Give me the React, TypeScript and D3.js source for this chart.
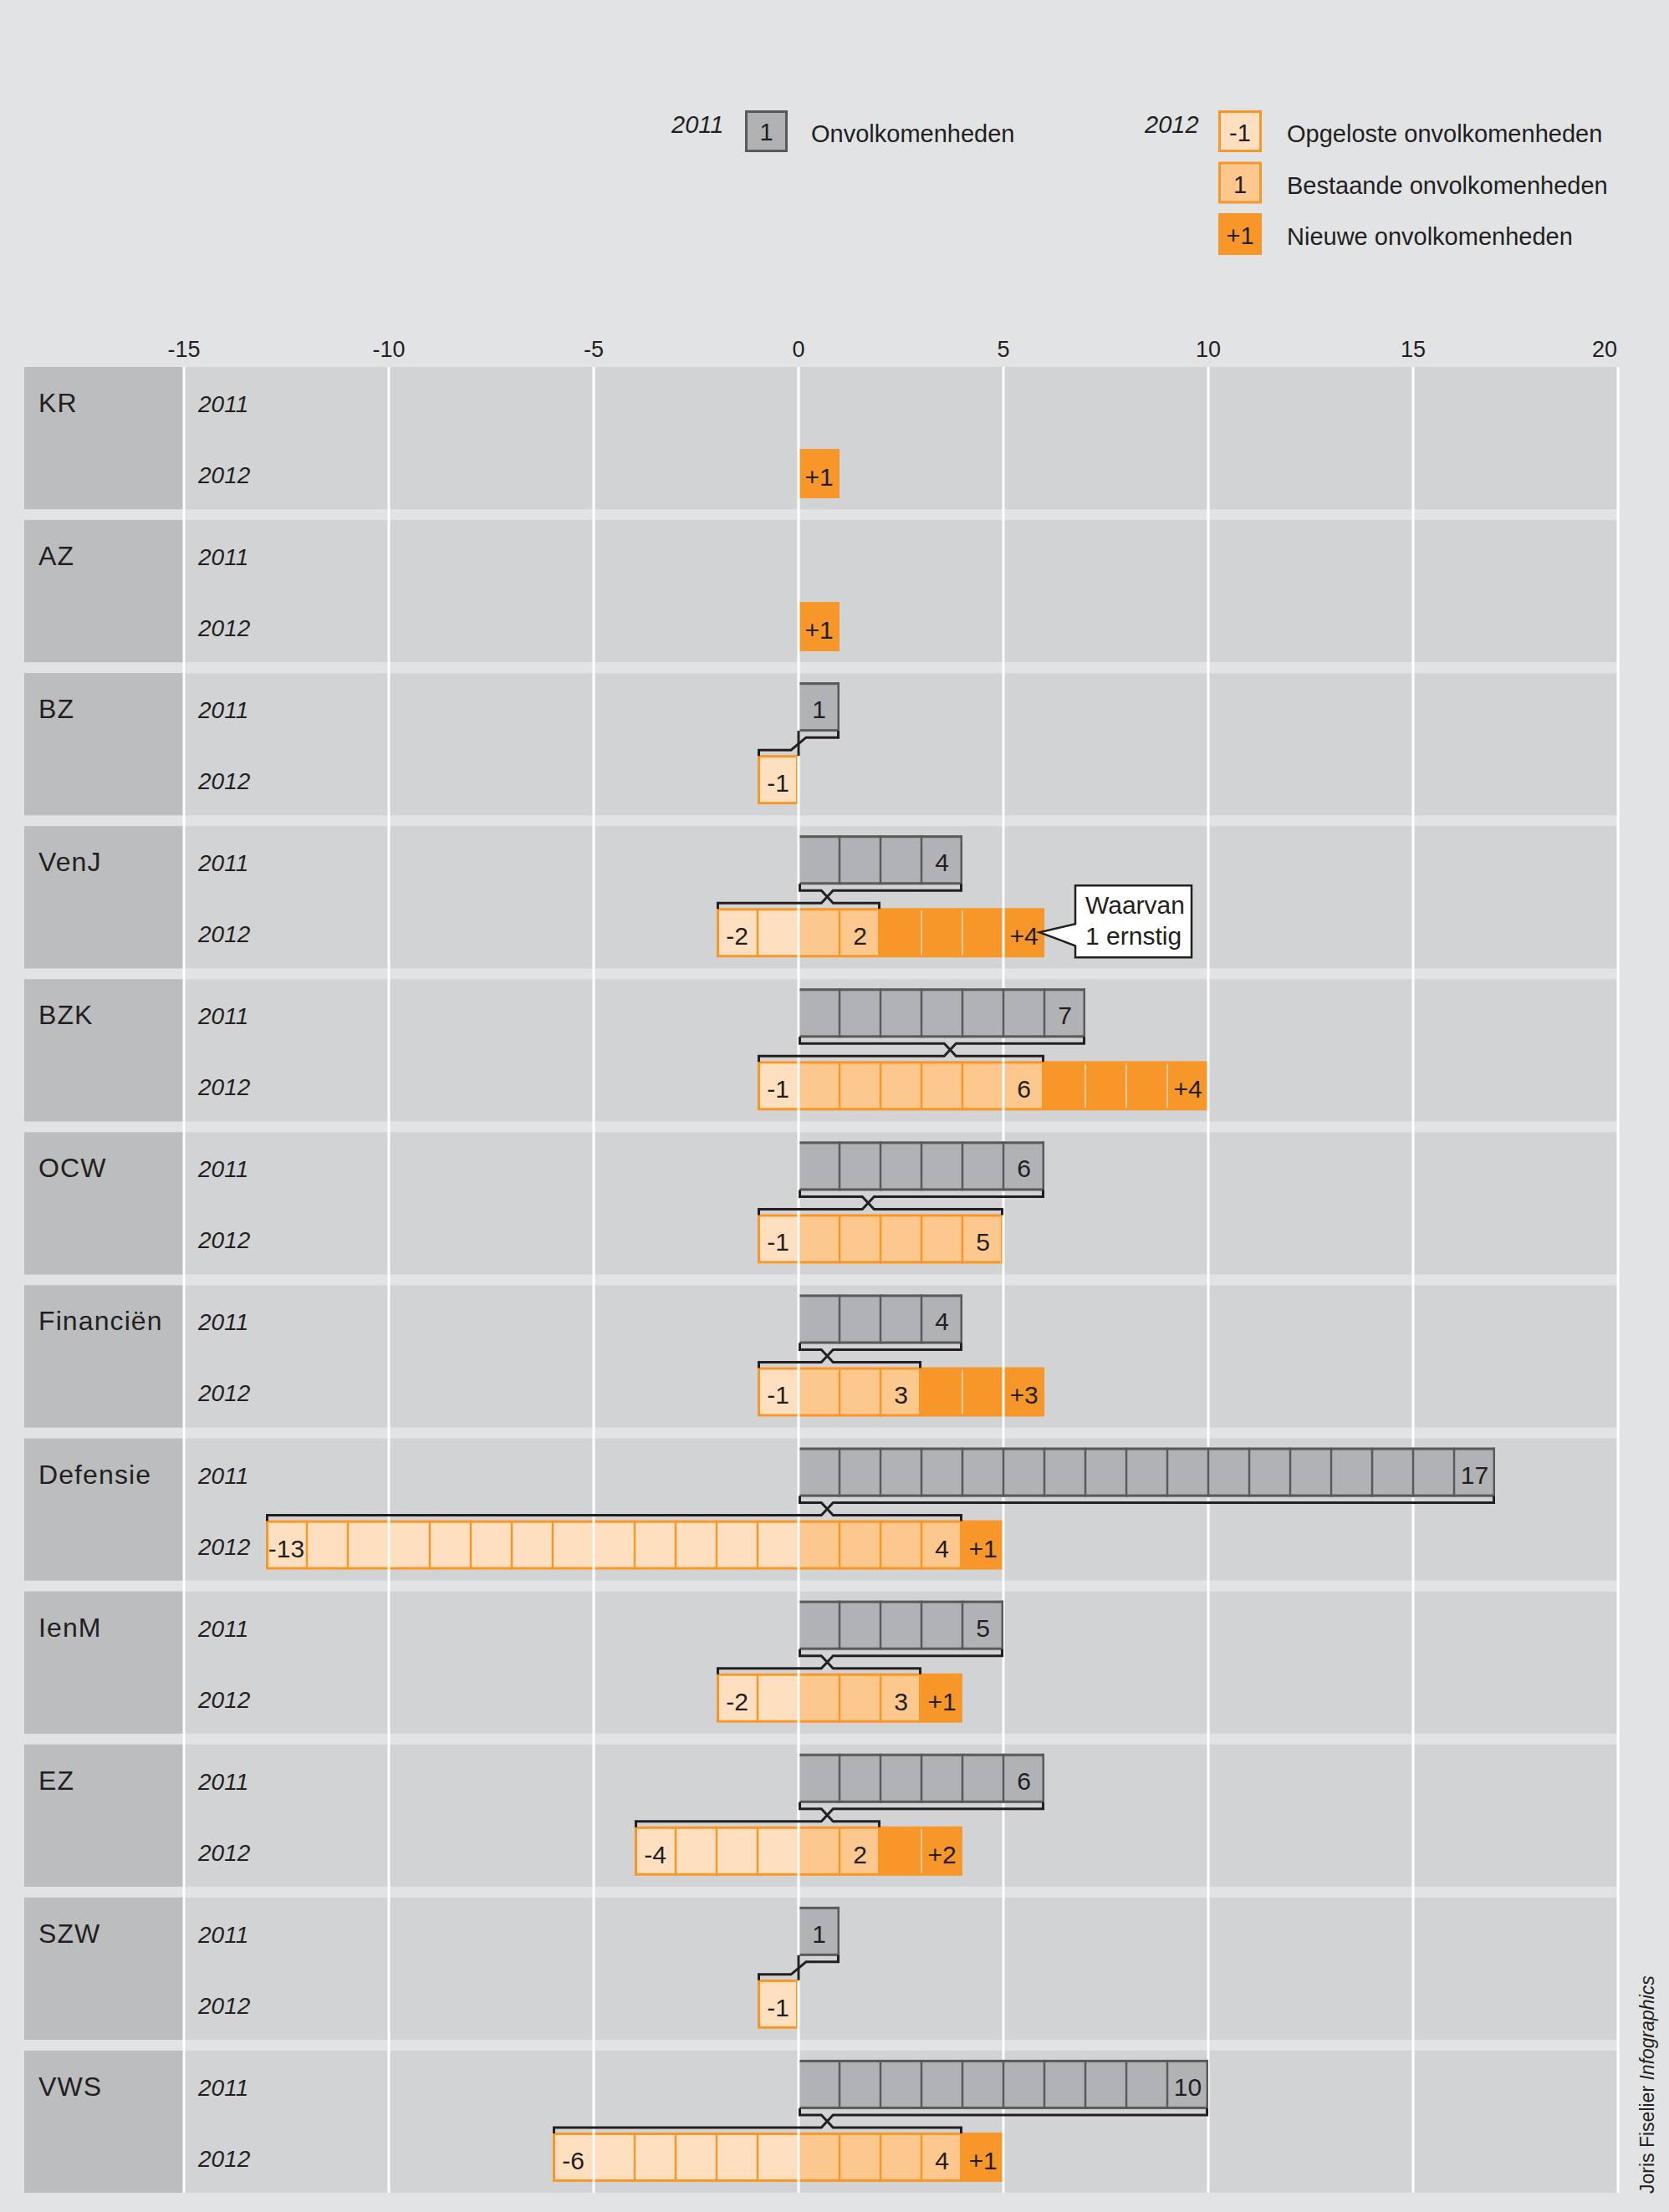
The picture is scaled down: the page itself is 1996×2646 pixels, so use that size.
import React from "react";
import * as d3 from "d3";

// ---------- DATA ----------
const departments = ["KR", "AZ", "BZ", "VenJ", "BZK", "OCW", "Financiën", "Defensie", "IenM", "EZ", "SZW", "VWS"];
const values2011 = [0, 0, 1, 4, 7, 6, 4, 17, 5, 6, 1, 10];
const resolved2012 = [0, 0, 1, 2, 1, 1, 1, 13, 2, 4, 1, 6];
const existing2012 = [0, 0, 0, 2, 6, 5, 3, 4, 3, 2, 0, 4];
const new2012 = [1, 1, 0, 4, 4, 0, 3, 1, 1, 2, 0, 1];
const connectorType = ["none", "none", "step", "cross", "cross", "cross", "cross", "cross", "cross", "cross", "step", "cross"];
const connectorAt = [0, 0, 0, 0.7, 3.7, 1.7, 0.7, 0.7, 0.7, 0.7, 0, 0.7];
const axisTicks = [-15, -10, -5, 0, 5, 10, 15, 20];
const yearLabels = ["2011", "2012"];
const calloutDept = "VenJ";
const calloutLines = ["Waarvan", "1 ernstig"];
const legend2011 = [{ box: "1", label: "Onvolkomenheden" }];
const legend2012 = [
  { box: "-1", label: "Opgeloste onvolkomenheden", kind: "pale" },
  { box: "1", label: "Bestaande onvolkomenheden", kind: "light" },
  { box: "+1", label: "Nieuwe onvolkomenheden", kind: "dark" },
];

// ---------- STYLE ----------
const W = 1996;
const H = 2646;
const C = {
  bg: "#e2e3e5",
  panel: "#d2d3d5",
  labelCol: "#bcbdbf",
  grayFill: "#b1b2b5",
  grayLine: "#5a5a5c",
  pale: "#fee0c0",
  light: "#fdc88e",
  dark: "#f7972a",
  text: "#231f20",
};
const FONT = "'Liberation Sans', Arial, Helvetica, sans-serif";

const x = d3.scaleLinear().domain([-15, 20]).range([220, 1935]);
const y = d3
  .scaleBand<string>()
  .domain(departments)
  .range([439, 2623])
  .paddingInner(0.071)
  .paddingOuter(0);

// relative offsets inside a panel
const G_TOP = 11;
const G_BOT = 70;
const O_TOP = 98;
const O_BOT = 157;
const BR_UP = 77;
const BR_LO = 92;

function Bar2011({ v, top }: { v: number; top: number }) {
  if (v <= 0) return null;
  const x0 = x(0) + 1.5;
  const x1 = x(v);
  const els: React.ReactNode[] = [];
  els.push(<rect key="f" x={x0} y={top + G_TOP} width={x1 - x0} height={G_BOT - G_TOP} fill={C.grayFill} />);
  els.push(<rect key="t" x={x0} y={top + G_TOP} width={x1 - x0} height={3} fill={C.grayLine} />);
  els.push(<rect key="b" x={x0} y={top + G_BOT - 3} width={x1 - x0} height={3} fill={C.grayLine} />);
  els.push(<rect key="r" x={x1 - 2.5} y={top + G_TOP} width={2.5} height={G_BOT - G_TOP} fill={C.grayLine} />);
  d3.range(1, v).forEach((i) => {
    els.push(<rect key={"d" + i} x={x(i) - 1.25} y={top + G_TOP} width={2.5} height={G_BOT - G_TOP} fill={C.grayLine} />);
  });
  els.push(
    <text key="l" x={(x(v - 1) + x(v)) / 2} y={top + 54} textAnchor="middle" fontSize={30} fill={C.text} fontFamily={FONT}>
      {v}
    </text>
  );
  return <g>{els}</g>;
}

function Bar2012Fills({ res, ex, nw, top }: { res: number; ex: number; nw: number; top: number }) {
  const yt = top + O_TOP;
  const h = O_BOT - O_TOP;
  const els: React.ReactNode[] = [];
  if (res > 0) els.push(<rect key="p" x={x(-res)} y={yt} width={x(0) - x(-res)} height={h} fill={C.pale} />);
  if (ex > 0) els.push(<rect key="li" x={x(0)} y={yt} width={x(ex) - x(0)} height={h} fill={C.light} />);
  if (nw > 0) els.push(<rect key="dk" x={x(ex)} y={yt} width={x(ex + nw) - x(ex)} height={h} fill={C.dark} />);
  if (res + ex > 0) {
    els.push(
      <rect key="o" x={x(-res) + 1.5} y={yt + 1.5} width={x(ex) - x(-res) - 3} height={h - 3} fill="none" stroke={C.dark} strokeWidth={3} />
    );
    d3.range(-res + 1, ex).forEach((i) => {
      els.push(<rect key={"od" + i} x={x(i) - 1.25} y={yt} width={2.5} height={h} fill={C.dark} />);
    });
  }
  d3.range(ex + 1, ex + nw).forEach((i) => {
    els.push(<rect key={"nd" + i} x={x(i) - 1} y={yt + 3} width={2} height={h - 6} fill="#fcc995" />);
  });
  return <g>{els}</g>;
}

function Bar2012Labels({ res, ex, nw, top }: { res: number; ex: number; nw: number; top: number }) {
  const by = top + 142;
  const els: React.ReactNode[] = [];
  const t = (k: string, v0: number, s: string) => (
    <text key={k} x={(x(v0) + x(v0 + 1)) / 2} y={by} textAnchor="middle" fontSize={30} fill={C.text} fontFamily={FONT}>
      {s}
    </text>
  );
  if (res > 0) els.push(t("r", -res, "-" + res));
  if (ex > 0) els.push(t("e", ex - 1, String(ex)));
  if (nw > 0) els.push(t("n", ex + nw - 1, "+" + nw));
  return <g>{els}</g>;
}

function Connector({ i, top }: { i: number; top: number }) {
  const type = connectorType[i];
  if (type === "none") return null;
  const v = values2011[i];
  const res = resolved2012[i];
  const ex = existing2012[i];
  const cx = x(connectorAt[i]);
  const yu = top + BR_UP;
  const yl = top + BR_LO;
  const gb = top + G_BOT - 1;
  const ot = top + O_TOP + 1;
  const st = { fill: "none", stroke: C.text, strokeWidth: 3, strokeLinejoin: "miter" as const };
  if (type === "step") {
    const d = 9;
    return (
      <g>
        <path d={`M${x(v) - 1.5},${gb} V${yu} H${cx + d} L${cx - d},${yl} H${x(-res) + 1.5} V${ot}`} {...st} />
        <path d={`M${x(0)},${gb} V${ot}`} {...st} />
      </g>
    );
  }
  const d = 7;
  return (
    <g>
      <path d={`M${x(0) + 1.5},${gb} V${yu} H${cx - d} L${cx + d},${yl} H${x(ex) - 1.5} V${ot}`} {...st} />
      <path d={`M${x(v) - 1.5},${gb} V${yu} H${cx + d} L${cx - d},${yl} H${x(-res) + 1.5} V${ot}`} {...st} />
    </g>
  );
}

function Callout({ top, endX }: { top: number; endX: number }) {
  const bl = endX + 37;
  const br = endX + 176;
  const bt = top + 71;
  const bb = top + 157;
  const tipX = endX - 6;
  const tipY = top + 127;
  const p = `M${bl},${bt} H${br} V${bb} H${bl} V${top + 143} L${tipX},${tipY} L${bl},${top + 117} Z`;
  return (
    <g>
      <path d={p} fill="#ffffff" stroke={C.text} strokeWidth={2.5} strokeLinejoin="miter" />
      {calloutLines.map((s, k) => (
        <text key={k} x={bl + 12} y={top + 105 + k * 37} fontSize={30} fill={C.text} fontFamily={FONT}>
          {s}
        </text>
      ))}
    </g>
  );
}

export default function App() {
  const bw = y.bandwidth();
  const firstTop = y(departments[0]) as number;
  const lastBottom = (y(departments[departments.length - 1]) as number) + bw;
  const lastTick = axisTicks[axisTicks.length - 1];

  return (
    <svg
      width={W}
      height={H}
      viewBox={`0 0 ${W} ${H}`}
      style={{ position: "absolute", left: 0, top: 0, display: "block" }}
      fontFamily={FONT}
    >
      <rect x={0} y={0} width={W} height={H} fill={C.bg} />

      {/* Legend */}
      <g>
        <text x={803} y={159} fontSize={29} fontStyle="italic" fill={C.text}>2011</text>
        {legend2011.map((l, k) => (
          <g key={k}>
            <rect x={892.5} y={133.5} width={48} height={47} fill={C.grayFill} stroke={C.grayLine} strokeWidth={3} />
            <text x={916.5} y={168} textAnchor="middle" fontSize={29} fill={C.text}>{l.box}</text>
            <text x={970} y={170} fontSize={29} fill={C.text}>{l.label}</text>
          </g>
        ))}
        <text x={1369} y={159} fontSize={29} fontStyle="italic" fill={C.text}>2012</text>
        {legend2012.map((l, k) => {
          const by = 132 + k * 61.5;
          const fill = l.kind === "pale" ? C.pale : l.kind === "light" ? C.light : C.dark;
          return (
            <g key={k}>
              <rect x={1458.5} y={by + 1.5} width={49} height={47} fill={fill} stroke={C.dark} strokeWidth={3} />
              <text x={1483} y={by + 37} textAnchor="middle" fontSize={29} fill={C.text}>{l.box}</text>
              <text x={1539} y={by + 38} fontSize={29} fill={C.text}>{l.label}</text>
            </g>
          );
        })}
      </g>

      {/* Axis tick labels */}
      {axisTicks.map((t) => (
        <text
          key={t}
          x={t === lastTick ? x(t) - 1 : x(t)}
          y={427}
          textAnchor={t === lastTick ? "end" : "middle"}
          fontSize={27}
          fill={C.text}
        >
          {t}
        </text>
      ))}

      {/* Panels */}
      {departments.map((dep) => {
        const top = y(dep) as number;
        return (
          <g key={dep}>
            <rect x={29} y={top} width={x(20) - 29} height={bw} fill={C.panel} />
            <rect x={29} y={top} width={x(-15) - 29} height={bw} fill={C.labelCol} />
          </g>
        );
      })}

      {/* 2012 bars (under gridlines) */}
      {departments.map((dep, i) => (
        <Bar2012Fills key={dep} res={resolved2012[i]} ex={existing2012[i]} nw={new2012[i]} top={y(dep) as number} />
      ))}

      {/* Gridlines */}
      {axisTicks.map((t) => (
        <rect key={t} x={x(t) - 1.5} y={firstTop} width={3} height={lastBottom - firstTop} fill="#ffffff" />
      ))}

      {/* Rows content */}
      {departments.map((dep, i) => {
        const top = y(dep) as number;
        const endX = x(existing2012[i] + new2012[i]);
        return (
          <g key={dep}>
            <text x={46} y={top + 54} fontSize={32} letterSpacing={1.1} fill={C.text}>{dep}</text>
            <text x={237} y={top + 54} fontSize={28} fontStyle="italic" fill={C.text}>{yearLabels[0]}</text>
            <text x={237} y={top + 139} fontSize={28} fontStyle="italic" fill={C.text}>{yearLabels[1]}</text>
            <Bar2011 v={values2011[i]} top={top} />
            <Bar2012Labels res={resolved2012[i]} ex={existing2012[i]} nw={new2012[i]} top={top} />
            <Connector i={i} top={top} />
            {dep === calloutDept && <Callout top={top} endX={endX} />}
          </g>
        );
      })}

      {/* Credit */}
      <text transform="translate(1978,2624) rotate(-90)" fontSize={23} fill={C.text}>
        Joris Fiselier <tspan fontStyle="italic">Infographics</tspan>
      </text>
    </svg>
  );
}
